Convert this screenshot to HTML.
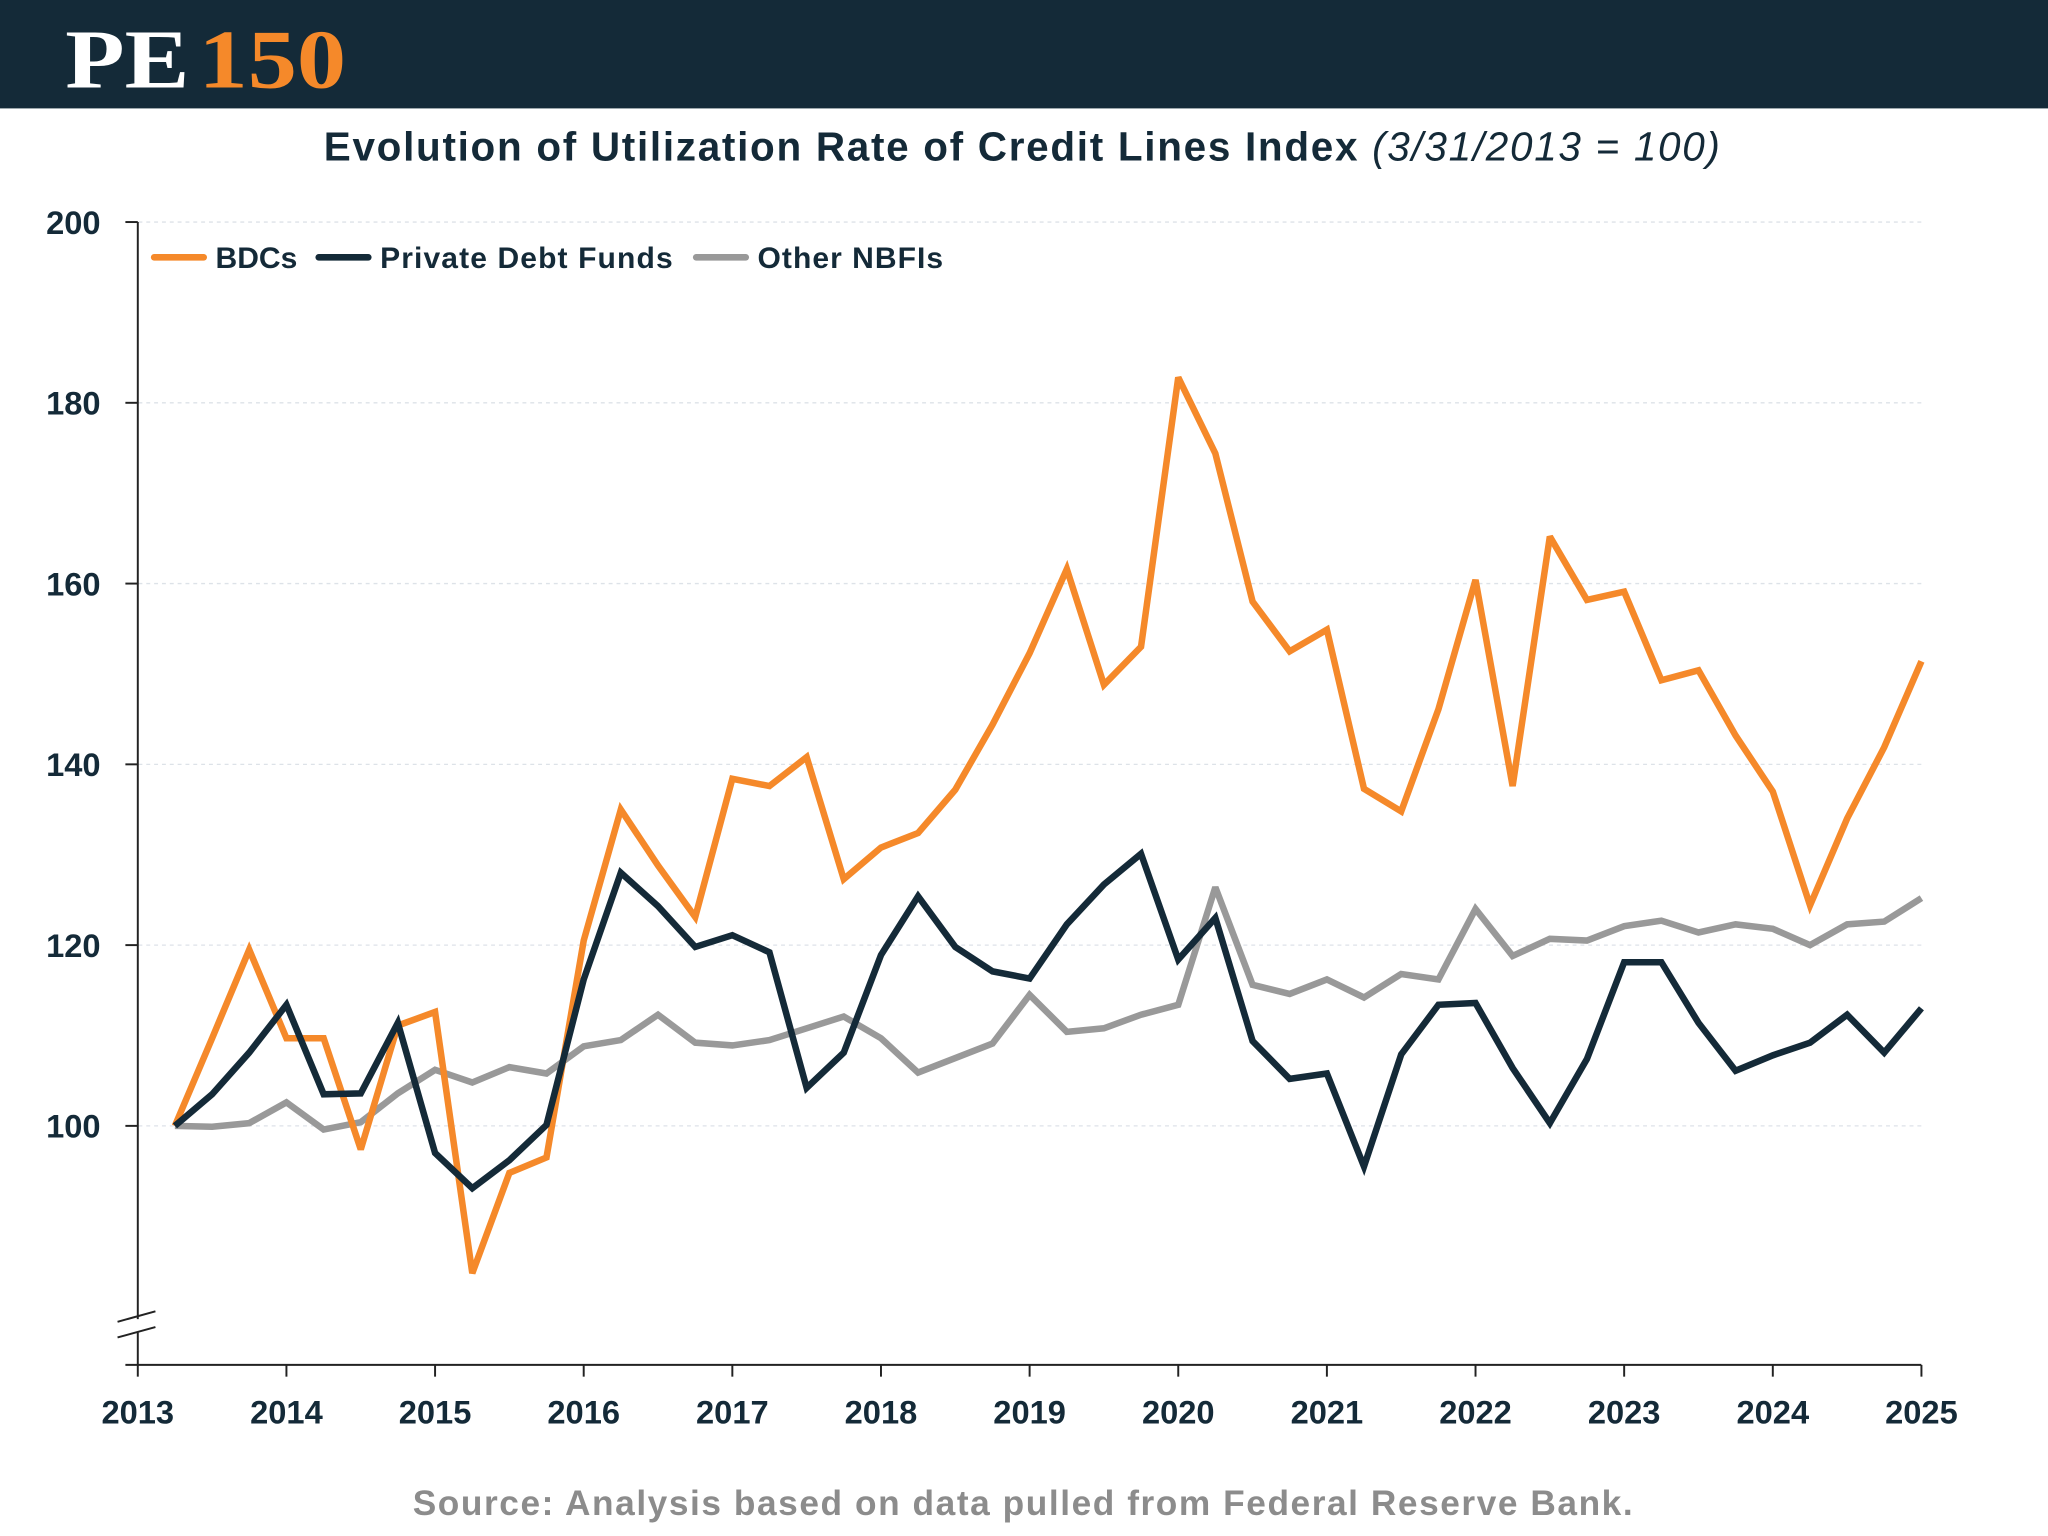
<!DOCTYPE html>
<html><head><meta charset="utf-8"><style>
html,body{margin:0;padding:0;background:#fff}
svg{display:block}
text{font-family:"Liberation Sans",sans-serif}
</style></head><body>
<svg id="chart" width="2048" height="1536" viewBox="0 0 1568 1176">
<rect x="0" y="0" width="1568" height="83" fill="#142a38"/>
<g>
<text x="50" y="67" style="font-family:'Liberation Serif',serif;font-weight:bold;font-size:64px" fill="#ffffff" textLength="95" lengthAdjust="spacingAndGlyphs">PE</text>
<text x="152" y="67" style="font-family:'Liberation Serif',serif;font-weight:bold;font-size:64px" fill="#f5892a" textLength="113" lengthAdjust="spacingAndGlyphs">150</text>
</g>
<text x="783" y="123" text-anchor="middle" font-size="31" font-weight="bold" fill="#142a38" letter-spacing="1.3">Evolution of Utilization Rate of Credit Lines Index <tspan font-weight="normal" font-style="italic"> (3/31/2013 = 100)</tspan></text>
<g id="grid"></g>
<g id="axes"></g>
<g id="series"></g>
<g>
<g><line x1="118" y1="197" x2="156" y2="197" stroke="#f5892a" stroke-width="5" stroke-linecap="round"/><text x="165" y="205" font-size="23" font-weight="bold" fill="#142a38">BDCs</text></g>
<g><line x1="244" y1="197" x2="282" y2="197" stroke="#142a38" stroke-width="5" stroke-linecap="round"/><text x="291" y="205" font-size="23" font-weight="bold" fill="#142a38" textLength="224">Private Debt Funds</text></g>
<g><line x1="533" y1="197" x2="571" y2="197" stroke="#999999" stroke-width="5" stroke-linecap="round"/><text x="580" y="205" font-size="23" font-weight="bold" fill="#142a38" textLength="142">Other NBFIs</text></g>
</g>
<text x="783" y="1160" text-anchor="middle" font-size="27" font-weight="bold" fill="#8c8c8c" textLength="934">Source: Analysis based on data pulled from Federal Reserve Bank.</text>
</svg>
<script>
const yTicks=[100,120,140,160,180,200];
const xYears=[2013,2014,2015,2016,2017,2018,2019,2020,2021,2022,2023,2024,2025];
const bdcs=[100,109.7,119.5,109.7,109.7,97.4,111.1,112.6,83.7,94.8,96.5,120.5,135,128.8,123.1,138.4,137.6,140.8,127.3,130.8,132.4,137.2,144.4,152.3,161.6,148.8,153,182.8,174.4,158,152.5,154.9,137.3,134.8,146.1,160.4,137.6,165.2,158.2,159.1,149.3,150.4,143.2,137,124.4,134,141.9,151.4];
const pdf=[100,103.5,108.1,113.4,103.5,103.6,111.4,97,93.1,96.2,100.1,116.2,128,124.3,119.8,121.1,119.2,104.2,108.1,118.9,125.4,119.8,117.1,116.3,122.3,126.7,130.1,118.4,123,109.4,105.2,105.8,95.5,107.9,113.4,113.6,106.4,100.3,107.4,118.1,118.1,111.4,106.1,107.8,109.2,112.3,108.1,113];
const nbfi=[100,99.9,100.3,102.6,99.6,100.4,103.6,106.2,104.8,106.5,105.8,108.8,109.5,112.3,109.2,108.9,109.5,110.8,112.1,109.7,105.9,107.5,109.1,114.5,110.4,110.8,112.3,113.4,126.4,115.6,114.6,116.2,114.2,116.8,116.2,124,118.8,120.7,120.5,122.1,122.7,121.4,122.3,121.8,120,122.3,122.6,125.2];
const NS="http://www.w3.org/2000/svg";
const X=t=>105.5+(t-2013)*113.8;
const Y=v=>862-(v-100)*6.92;
function mk(tag,attrs,parent){const e=document.createElementNS(NS,tag);for(const k in attrs)e.setAttribute(k,attrs[k]);parent.appendChild(e);return e;}
const grid=document.getElementById('grid'),axes=document.getElementById('axes'),series=document.getElementById('series');
yTicks.forEach(v=>{
 const g=mk('line',{x1:106,x2:1471,y1:Y(v),y2:Y(v),stroke:'#dde2e8','stroke-width':1,'stroke-dasharray':'3 3'},grid);
 
 
 const t=mk('line',{x1:96,x2:105.5,y1:Y(v),y2:Y(v),stroke:'#222','stroke-width':1.5},axes);
 
 
 const l=mk('text',{x:77,y:Y(v)+9,'text-anchor':'end','font-size':25,'font-weight':'bold',fill:'#142a38'},axes);
 l.textContent=v;
 
 
});
const ya=mk('path',{d:'M105.5 170 V1010 M105.5 1020 V1045 M90 1012 L119 1004 M90 1024 L119 1016 M96 1045 H1471',stroke:'#222','stroke-width':1.5,fill:'none'},axes);


xYears.forEach(yr=>{
 const t=mk('line',{x1:X(yr),x2:X(yr),y1:1045,y2:1054,stroke:'#222','stroke-width':1.5},axes);
 
 
 const l=mk('text',{x:X(yr),y:1090,'text-anchor':'middle','font-size':25,'font-weight':'bold',fill:'#142a38'},axes);
 l.textContent=yr;
 
 
});
function line(data,color,name){
 const d=data.map((v,i)=>(i?'L':'M')+X(2013.25+i*0.25).toFixed(1)+' '+Y(v).toFixed(1)).join(' ');
 const p=mk('path',{d:d,stroke:color,'stroke-width':5,fill:'none','stroke-linejoin':'miter','stroke-miterlimit':3},series);
 
 
}
line(nbfi,'#999999','line-other-nbfis');
line(bdcs,'#f5892a','line-bdcs');
line(pdf,'#142a38','line-private-debt-funds');
</script>
</body></html>
